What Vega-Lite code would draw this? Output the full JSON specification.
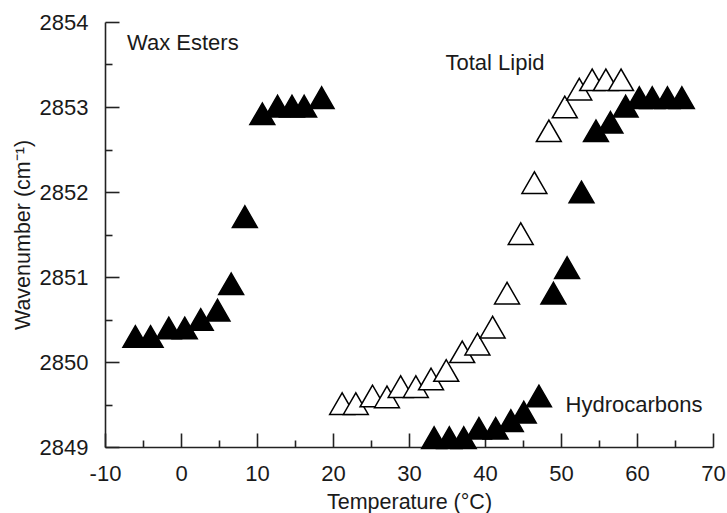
{
  "$schema": "https://vega.github.io/schema/vega-lite/v6.json",
  "width": 608,
  "height": 425,
  "autosize": {"type": "none"},
  "padding": {"left": 105, "top": 22, "right": 14, "bottom": 66},
  "background": "white",
  "config": {
    "view": {"stroke": null},
    "axis": {
      "labelFont": "Liberation Sans",
      "titleFont": "Liberation Sans",
      "labelFontSize": 22,
      "titleFontSize": 21.5,
      "titleFontWeight": "normal",
      "labelColor": "#1a1a1a",
      "titleColor": "#1a1a1a",
      "domainColor": "#222222",
      "tickColor": "#222222",
      "domainWidth": 1.6,
      "tickWidth": 1.6,
      "labelFlush": false,
      "labelOverlap": false,
      "grid": false
    }
  },
  "resolve": {"axis": {"x": "independent", "y": "independent"}},
  "datasets": {
    "points": [
      {"series": "Wax Esters", "t": -6.0, "w": 2850.30},
      {"series": "Wax Esters", "t": -4.0, "w": 2850.30},
      {"series": "Wax Esters", "t": -1.6, "w": 2850.40},
      {"series": "Wax Esters", "t": 0.5, "w": 2850.40},
      {"series": "Wax Esters", "t": 2.6, "w": 2850.50},
      {"series": "Wax Esters", "t": 4.8, "w": 2850.61},
      {"series": "Wax Esters", "t": 6.6, "w": 2850.92},
      {"series": "Wax Esters", "t": 8.4, "w": 2851.71},
      {"series": "Wax Esters", "t": 10.7, "w": 2852.92},
      {"series": "Wax Esters", "t": 12.7, "w": 2853.01},
      {"series": "Wax Esters", "t": 14.6, "w": 2853.01},
      {"series": "Wax Esters", "t": 16.2, "w": 2853.01},
      {"series": "Wax Esters", "t": 18.5, "w": 2853.11},
      {"series": "Total Lipid", "t": 21.2, "w": 2849.51},
      {"series": "Total Lipid", "t": 23.0, "w": 2849.51},
      {"series": "Total Lipid", "t": 25.2, "w": 2849.60},
      {"series": "Total Lipid", "t": 27.1, "w": 2849.59},
      {"series": "Total Lipid", "t": 28.9, "w": 2849.71},
      {"series": "Total Lipid", "t": 30.9, "w": 2849.71},
      {"series": "Total Lipid", "t": 32.9, "w": 2849.80},
      {"series": "Total Lipid", "t": 34.9, "w": 2849.90},
      {"series": "Total Lipid", "t": 37.0, "w": 2850.12},
      {"series": "Total Lipid", "t": 39.0, "w": 2850.21},
      {"series": "Total Lipid", "t": 41.0, "w": 2850.41},
      {"series": "Total Lipid", "t": 42.9, "w": 2850.81},
      {"series": "Total Lipid", "t": 44.7, "w": 2851.51},
      {"series": "Total Lipid", "t": 46.5, "w": 2852.11},
      {"series": "Total Lipid", "t": 48.4, "w": 2852.72},
      {"series": "Total Lipid", "t": 50.5, "w": 2853.00},
      {"series": "Total Lipid", "t": 52.4, "w": 2853.21},
      {"series": "Total Lipid", "t": 54.1, "w": 2853.32},
      {"series": "Total Lipid", "t": 55.9, "w": 2853.32},
      {"series": "Total Lipid", "t": 57.9, "w": 2853.32},
      {"series": "Total Lipid (filled)", "t": 49.0, "w": 2850.81},
      {"series": "Total Lipid (filled)", "t": 50.8, "w": 2851.11},
      {"series": "Total Lipid (filled)", "t": 52.7, "w": 2852.00},
      {"series": "Total Lipid (filled)", "t": 54.6, "w": 2852.72},
      {"series": "Total Lipid (filled)", "t": 56.5, "w": 2852.82},
      {"series": "Total Lipid (filled)", "t": 58.5, "w": 2853.01},
      {"series": "Total Lipid (filled)", "t": 60.3, "w": 2853.11},
      {"series": "Total Lipid (filled)", "t": 62.0, "w": 2853.11},
      {"series": "Total Lipid (filled)", "t": 64.0, "w": 2853.11},
      {"series": "Total Lipid (filled)", "t": 65.9, "w": 2853.11},
      {"series": "Hydrocarbons", "t": 33.3, "w": 2849.11},
      {"series": "Hydrocarbons", "t": 35.3, "w": 2849.11},
      {"series": "Hydrocarbons", "t": 37.2, "w": 2849.11},
      {"series": "Hydrocarbons", "t": 39.2, "w": 2849.22},
      {"series": "Hydrocarbons", "t": 41.4, "w": 2849.22},
      {"series": "Hydrocarbons", "t": 43.4, "w": 2849.31},
      {"series": "Hydrocarbons", "t": 45.1, "w": 2849.41},
      {"series": "Hydrocarbons", "t": 47.1, "w": 2849.60}
    ],
    "labels": [
      {"label": "Wax Esters", "t": -7.1, "w": 2853.67},
      {"label": "Total Lipid", "t": 34.8, "w": 2853.44},
      {"label": "Hydrocarbons", "t": 50.6, "w": 2849.41}
    ]
  },
  "layer": [
    {
      "data": {"name": "points"},
      "mark": {"type": "point", "shape": "triangle-up", "filled": false, "size": 620, "stroke": "black", "strokeWidth": 1.5, "opacity": 1},
      "encoding": {
        "x": {
          "field": "t", "type": "quantitative",
          "scale": {"domain": [-10, 70], "nice": false, "zero": false},
          "axis": {
            "orient": "bottom",
            "title": "Temperature (°C)",
            "values": [-10, 0, 10, 20, 30, 40, 50, 60, 70],
            "labelExpr": "'' + datum.value",
            "tickSize": -14,
            "labelPadding": 30,
            "titleY": 61,
            "titleBaseline": "alphabetic"
          }
        },
        "y": {
          "field": "w", "type": "quantitative",
          "scale": {"domain": [2849, 2854], "nice": false, "zero": false},
          "axis": {
            "orient": "left",
            "title": "Wavenumber (cm⁻¹)",
            "values": [2849, 2850, 2851, 2852, 2853, 2854],
            "labelExpr": "'' + datum.value",
            "tickSize": -14,
            "labelPadding": 31,
            "titleX": -93,
            "titleBaseline": "top"
          }
        },
        "fill": {
          "field": "series", "type": "nominal",
          "scale": {"domain": ["Wax Esters", "Total Lipid", "Total Lipid (filled)", "Hydrocarbons"], "range": ["black", "white", "black", "black"]},
          "legend": null
        }
      }
    },
    {
      "data": {"name": "labels"},
      "mark": {"type": "text", "font": "Liberation Sans", "fontSize": 22, "align": "left", "baseline": "alphabetic", "color": "#1a1a1a"},
      "encoding": {
        "x": {
          "field": "t", "type": "quantitative",
          "axis": {
            "orient": "bottom",
            "title": null,
            "values": [-5, 5, 15, 25, 35, 45, 55, 65],
            "labels": false,
            "domain": false,
            "tickSize": -7
          }
        },
        "y": {
          "field": "w", "type": "quantitative",
          "axis": {
            "orient": "left",
            "title": null,
            "values": [2849.5, 2850.5, 2851.5, 2852.5, 2853.5],
            "labels": false,
            "domain": false,
            "tickSize": -7
          }
        },
        "text": {"field": "label"}
      }
    }
  ]
}
